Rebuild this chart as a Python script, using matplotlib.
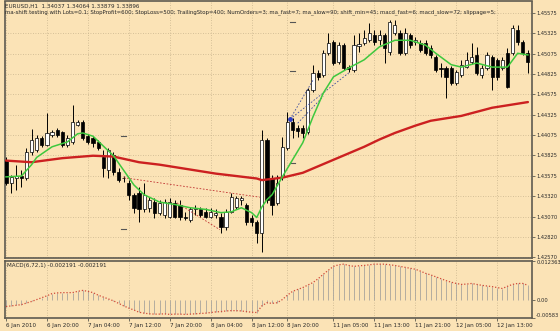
import matplotlib
matplotlib.use("Agg")
import matplotlib.pyplot as plt
import numpy as np

# ---------------- data ----------------
opens = [1.4377, 1.4349, 1.4355, 1.4357, 1.4355, 1.4387, 1.4389, 1.4404, 1.4395, 1.4407,
         1.4414, 1.4411, 1.4395, 1.4399, 1.4420, 1.4424, 1.4406, 1.4404, 1.4399, 1.4380,
         1.4364, 1.4383, 1.4362, 1.4355, 1.4349, 1.4334, 1.4336, 1.4316, 1.4318, 1.4325,
         1.4312, 1.4309, 1.4307, 1.4324, 1.4322, 1.4307, 1.4303, 1.4316, 1.4316, 1.4313,
         1.4307, 1.4309, 1.4307, 1.4294, 1.4313, 1.4319, 1.4328, 1.4322, 1.4306, 1.4301,
         1.4287, 1.4401, 1.4355, 1.4324, 1.4356, 1.4392, 1.4424, 1.4416, 1.4416, 1.4411,
         1.4463, 1.4484, 1.4481, 1.4508, 1.4522, 1.4497, 1.4518, 1.4491, 1.4487, 1.4517,
         1.4521, 1.4524, 1.4530, 1.4524, 1.4530, 1.4510, 1.4533, 1.4533, 1.4508, 1.4530,
         1.4522, 1.4521, 1.4521, 1.4515, 1.4504, 1.4490, 1.4490, 1.4490, 1.4471, 1.4481,
         1.4491, 1.4497, 1.4506, 1.4481, 1.4490, 1.4504, 1.4500, 1.4490, 1.4508, 1.4508,
         1.4537, 1.4522, 1.4508]
highs = [1.4381, 1.4358, 1.4371, 1.4364, 1.4392, 1.4415, 1.4407, 1.4406, 1.4435, 1.4414,
         1.4416, 1.4412, 1.4407, 1.4444, 1.4426, 1.4426, 1.4409, 1.4406, 1.4401, 1.4389,
         1.4392, 1.4387, 1.4367, 1.4357, 1.4352, 1.4336, 1.4343, 1.4349, 1.4331, 1.4330,
         1.4328, 1.4329, 1.4330, 1.4328, 1.4328, 1.4313, 1.4319, 1.4322, 1.4319, 1.4318,
         1.4318, 1.4316, 1.4312, 1.4316, 1.4336, 1.4333, 1.4333, 1.4324, 1.4309, 1.4303,
         1.4414, 1.4404, 1.4358, 1.4358, 1.4405, 1.4436, 1.4429, 1.4420, 1.4420, 1.4465,
         1.4494, 1.4487, 1.4512, 1.4533, 1.4524, 1.4522, 1.4521, 1.4494, 1.4530, 1.4533,
         1.4537, 1.4545, 1.4537, 1.4537, 1.4533, 1.4549, 1.4549, 1.4537, 1.4539, 1.4533,
         1.4528, 1.4524, 1.4524, 1.4518, 1.4506, 1.4496, 1.4492, 1.4492, 1.4487, 1.4500,
         1.4510, 1.4521, 1.4516, 1.4494, 1.4510, 1.4506, 1.4502, 1.4504, 1.4515, 1.4543,
         1.4543, 1.4524, 1.4512]
lows = [1.4346, 1.4336, 1.4340, 1.4343, 1.4352, 1.4383, 1.4387, 1.4393, 1.4394, 1.4405,
        1.4405, 1.4393, 1.4393, 1.4397, 1.4418, 1.4401, 1.4397, 1.4393, 1.4389, 1.4356,
        1.4355, 1.4358, 1.4350, 1.4350, 1.4328, 1.4312, 1.4300, 1.4313, 1.4313, 1.4306,
        1.4309, 1.4306, 1.4305, 1.4305, 1.4303, 1.4303, 1.4301, 1.4309, 1.4307, 1.4305,
        1.4306, 1.4306, 1.4287, 1.4291, 1.4311, 1.4316, 1.4322, 1.4297, 1.4296, 1.4275,
        1.4263, 1.4324, 1.4309, 1.4322, 1.4352, 1.4389, 1.4404, 1.4405, 1.4404, 1.4409,
        1.4460, 1.4475, 1.4479, 1.4506, 1.4494, 1.4495, 1.4487, 1.4485, 1.4485, 1.4510,
        1.4518, 1.4522, 1.4518, 1.4518, 1.4496, 1.4506, 1.4530, 1.4506, 1.4506, 1.4515,
        1.4518, 1.4510, 1.4506, 1.4502, 1.4485, 1.4479, 1.4453, 1.4469, 1.4469, 1.4479,
        1.4490, 1.4495, 1.4481, 1.4478, 1.4487, 1.4463, 1.4475, 1.4487, 1.4465, 1.4506,
        1.4518, 1.4506, 1.4484]
closes = [1.4349, 1.4356, 1.4357, 1.4355, 1.4387, 1.4401, 1.4404, 1.4395, 1.4410, 1.4411,
          1.4407, 1.4395, 1.4404, 1.4424, 1.4424, 1.4404, 1.4399, 1.4398, 1.4392, 1.4367,
          1.4389, 1.4362, 1.4352, 1.4354, 1.4334, 1.4318, 1.4316, 1.4334, 1.4328, 1.4312,
          1.4324, 1.4325, 1.4325, 1.4307, 1.4307, 1.4306, 1.4316, 1.4318, 1.4309, 1.4307,
          1.4313, 1.4312, 1.4294, 1.4313, 1.4331, 1.4330, 1.4330, 1.4301, 1.4300, 1.4287,
          1.4401, 1.4328, 1.4322, 1.4349, 1.4393, 1.4424, 1.4414, 1.4412, 1.4410, 1.4463,
          1.4484, 1.4479, 1.4508, 1.4521, 1.4496, 1.4518, 1.4490, 1.4489, 1.4518, 1.4519,
          1.4527, 1.4533, 1.4522, 1.4530, 1.4515, 1.4546, 1.4543, 1.4508, 1.4533, 1.4518,
          1.4524, 1.4512, 1.4508, 1.4506, 1.4487, 1.4489, 1.4479, 1.4471, 1.4485, 1.4494,
          1.4500, 1.4504, 1.4484, 1.4490, 1.4506, 1.4479, 1.4479, 1.4500, 1.4466, 1.4539,
          1.4522, 1.4508, 1.4497]

# fast MA (green) read at these bars
ma_fast_bars = [0, 3, 5, 6, 9, 12, 14, 15, 17, 19, 21, 23, 25, 27, 30, 33, 36, 39, 42, 44,
                46, 48, 49, 50, 51, 52, 54, 56, 58, 60, 62, 64, 67, 70, 73, 76, 79, 82, 84,
                87, 89, 92, 95, 98, 100, 102]
ma_fast_vals = [1.4356, 1.4357, 1.4371, 1.4380, 1.4393, 1.4399, 1.4409, 1.4410, 1.4406, 1.4394,
                1.4382, 1.4364, 1.4346, 1.4334, 1.4325, 1.4322, 1.4318, 1.4316, 1.4312, 1.4313,
                1.4318, 1.4312, 1.4306, 1.4319, 1.4328, 1.4334, 1.4356, 1.4377, 1.4398, 1.4430,
                1.4459, 1.4479, 1.4490, 1.4500, 1.4516, 1.4524, 1.4524, 1.4518, 1.4508,
                1.4494, 1.4491, 1.4496, 1.4491, 1.4491, 1.4508, 1.4506]
# slow MA (red) read at these bars
ma_slow_bars = [0, 5, 11, 17, 21, 26, 30, 34, 41, 45, 49, 50, 54, 58, 61, 64, 67, 70, 73, 76,
                80, 83, 89, 95, 102]
ma_slow_vals = [1.4376, 1.4374, 1.4379, 1.4382, 1.4381, 1.4374, 1.4371, 1.4367, 1.4360, 1.4357,
                1.4354, 1.4352, 1.4355, 1.4361, 1.4369, 1.4377, 1.4385, 1.4393, 1.4402, 1.4410,
                1.4419, 1.4425, 1.4431, 1.4441, 1.4448]

macd = [-0.0022, -0.0020, -0.0018, -0.0016, -0.0011, -0.0006, 0.0000, 0.0006, 0.0012, 0.0019,
        0.0021, 0.0022, 0.0022, 0.0022, 0.0026, 0.0029, 0.0026, 0.0022, 0.0014, 0.0008,
        0.0002, -0.0004, -0.0012, -0.0020, -0.0027, -0.0033, -0.0040, -0.0043, -0.0045, -0.0046,
        -0.0046, -0.0045, -0.0047, -0.0046, -0.0046, -0.0047, -0.0046, -0.0045, -0.0044, -0.0043,
        -0.0041, -0.0039, -0.0038, -0.0036, -0.0035, -0.0035, -0.0036, -0.0038, -0.0040, -0.0041,
        -0.0020, -0.0010, -0.0012, -0.0010, 0.0000, 0.0014, 0.0026, 0.0032, 0.0038, 0.0046,
        0.0054, 0.0066, 0.0080, 0.0093, 0.0105, 0.0110, 0.0112, 0.0108, 0.0105, 0.0107,
        0.0108, 0.0110, 0.0112, 0.0112, 0.0112, 0.0110, 0.0108, 0.0105, 0.0102, 0.0099,
        0.0096, 0.0090, 0.0083, 0.0078, 0.0072, 0.0066, 0.0060, 0.0055, 0.0051, 0.0048,
        0.0049, 0.0051, 0.0048, 0.0045, 0.0043, 0.0041, 0.0038, 0.0035, 0.0042, 0.0048,
        0.0051, 0.0051, 0.0045]

price_ticks = [1.45575, 1.45325, 1.45075, 1.44825, 1.44575, 1.44325, 1.44075,
               1.43825, 1.43575, 1.43320, 1.43070, 1.42820, 1.42570]
price_labels = ["1.45575", "1.45325", "1.45075", "1.44825", "1.44575", "1.44325", "1.44075",
                "1.43825", "1.43575", "1.43320", "1.43070", "1.42820", "1.42570"]
time_tick_bars = [0, 8, 16, 24, 32, 40, 48, 55, 64, 72, 80, 88, 96]
time_labels = ["6 Jan 2010", "6 Jan 20:00", "7 Jan 04:00", "7 Jan 12:00", "7 Jan 20:00",
               "8 Jan 04:00", "8 Jan 12:00", "8 Jan 20:00", "11 Jan 05:00", "11 Jan 13:00",
               "11 Jan 21:00", "12 Jan 05:00", "12 Jan 13:00"]
macd_ticks = [0.012363, 0.0, -0.00583]
macd_labels = ["0.012363", "0.00", "-0.00583"]

# trade marks (dashed order lines and stop/target dashes)
trade_red = [((23, 1.4355), (49.6, 1.4331)), ((33.4, 1.4324), (41.8, 1.4291))]
trade_blue = [((55.5, 1.4427), (67, 1.4484)), ((55.5, 1.4427), (60, 1.4475)),
              ((57, 1.4422), (62, 1.4455))]
level_marks = [(23, 1.4406), (23, 1.4292), (56, 1.4547), (56, 1.4486), (56, 1.4373)]

title1 = "EURUSD,H1  1.34037 1.34064 1.33879 1.33896"
title2 = ("ma-shift testing with Lots=0.1; StopProfit=600; StopLoss=500; TrailingStop=400; "
          "NumOrders=3; ma_fast=7; ma_slow=90; shift_min=45; macd_fast=6; macd_slow=72; slippage=5;")
macd_title = "MACD(6,72,1) -0.002191 -0.002191"

# ---------------- drawing ----------------
BG = "#FBE3B6"
GRID = "#C9B48E"
SPINE = "#5E5B50"
TXT = "#2A2A2A"
W, H = 560, 331
FS = 4.1      # date labels / panel captions
FS_Y = 3.7    # price labels on the right


def rect(l, t, r, b):
    return [l / W, 1 - b / H, (r - l) / W, (b - t) / H]


fig = plt.figure(figsize=(W / 100, H / 100), dpi=100, facecolor=BG)
ax = fig.add_axes(rect(5, 1.5, 532, 258), facecolor=BG)
ax2 = fig.add_axes(rect(5, 260.5, 532, 318), facecolor=BG)

o = np.array(opens); c = np.array(closes); hi = np.array(highs); lo = np.array(lows)
x = np.arange(len(o))
up = c >= o
bottom = np.minimum(o, c)
height = np.maximum(np.abs(c - o), 0.00003)

ax.vlines(x, lo, hi, color="black", lw=0.7, zorder=3)
ax.bar(x[up], height[up], bottom=bottom[up], width=0.62, color="white",
       edgecolor="black", lw=0.5, zorder=4)
ax.bar(x[~up], height[~up], bottom=bottom[~up], width=0.62, color="black",
       edgecolor="black", lw=0.5, zorder=4)

ax.plot(ma_slow_bars, ma_slow_vals, color="#CC2020", lw=1.7, zorder=5,
        solid_capstyle="round", solid_joinstyle="round")
ax.plot(ma_fast_bars, ma_fast_vals, color="#3EC83E", lw=1.1, zorder=6,
        solid_joinstyle="round")

for (a, b) in trade_red:
    ax.plot([a[0], b[0]], [a[1], b[1]], color="#C03030", lw=0.6, ls=(0, (2, 2)), zorder=5)
for (a, b) in trade_blue:
    ax.plot([a[0], b[0]], [a[1], b[1]], color="#4050A0", lw=0.6, ls=(0, (2, 2)), zorder=5)
ax.plot([55.5], [1.4427], marker="o", ms=2.5, color="#3040C0", zorder=7)
for (bx, by) in level_marks:
    ax.plot([bx - 0.5, bx + 0.5], [by, by], color="#555555", lw=0.8, zorder=5)

ax.set_xlim(-0.2, 102.8)
ax.set_ylim(1.42562, 1.45717)
ax.yaxis.tick_right()
ax.set_yticks(price_ticks)
ax.set_yticklabels(price_labels)
ax.set_xticks(time_tick_bars)
ax.set_xticklabels([])
ax.tick_params(axis="y", length=2.0, width=0.6, pad=1.0, labelsize=FS_Y, colors=SPINE,
               labelcolor=TXT)
ax.tick_params(axis="x", length=0)
ax.grid(True, color=GRID, ls=(0, (1, 2)), lw=0.6, zorder=0)

# MACD panel
mv = np.array(macd)
ax2.vlines(x, 0, mv, color="#A8A49C", lw=0.6, zorder=3)
ax2.plot(x, mv, color="#D04A3A", lw=0.9, ls=(0, (1, 1.5)), zorder=4)
ax2.set_xlim(-0.2, 102.8)
ax2.set_ylim(-0.00583, 0.012363)
ax2.yaxis.tick_right()
ax2.set_yticks(macd_ticks)
ax2.set_yticklabels(macd_labels)
ax2.set_xticks(time_tick_bars)
ax2.set_xticklabels(time_labels)
ax2.tick_params(axis="y", length=2.0, width=0.6, pad=1.0, labelsize=FS_Y, colors=SPINE,
                labelcolor=TXT)
ax2.tick_params(axis="x", length=2.5, width=0.6, pad=1.0, labelsize=FS, colors=SPINE,
                labelcolor=TXT)
for lab in ax2.get_xticklabels():
    lab.set_ha("left")
ylabs = ax2.get_yticklabels()
ylabs[0].set_va("top")
ylabs[2].set_va("bottom")
ax2.grid(True, axis="x", color=GRID, ls=(0, (1, 2)), lw=0.6, zorder=0)

for a in (ax, ax2):
    for s in a.spines.values():
        s.set_color(SPINE)
        s.set_linewidth(1.2)

fig.text(5 / W, 1 - 6 / H, title1, fontsize=FS, color=TXT, va="center", ha="left")
t2 = fig.text(5 / W, 1 - 12.5 / H, title2, fontsize=FS, color=TXT, va="center", ha="left")
fig.text(7 / W, 1 - 266 / H, macd_title, fontsize=FS, color=TXT, va="center", ha="left")

# fit the long caption line to the width it has in the reference (ends near x=488)
fig.canvas.draw()
wpx = t2.get_window_extent().width
t2.set_fontsize(FS * 483.0 / wpx)

fig.savefig("out.png", dpi=100, facecolor=BG)
